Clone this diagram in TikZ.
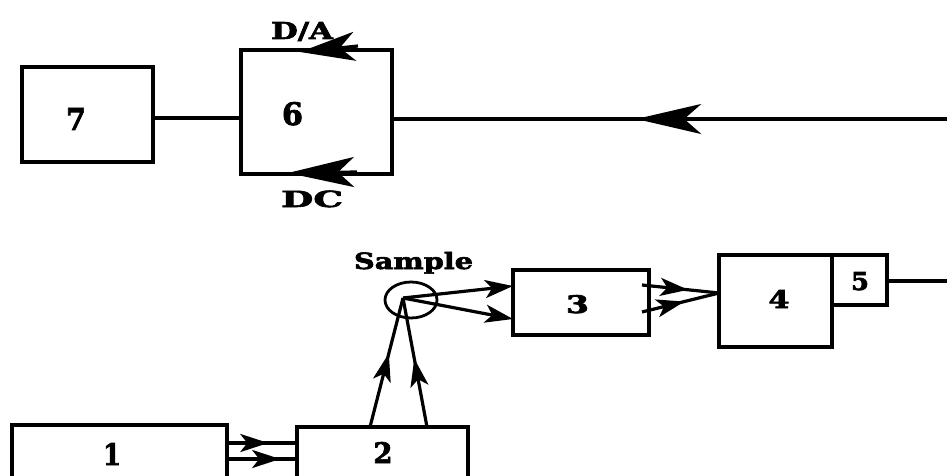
\documentclass[tikz,border=0pt]{standalone}
\usepackage{fontspec}
\setmainfont{DejaVu Serif}[BoldFeatures={FakeBold=2.5}]
\usetikzlibrary{arrows.meta,decorations.markings,shapes.geometric}
\begin{document}
\begin{tikzpicture}[x=1pt,y=-1pt,
  >={Stealth[length=28pt,width=18pt,inset=7pt]},
  box/.style={draw, line width=3.4pt, rectangle, inner sep=0pt, outer sep=0pt},
  conn/.style={line width=3.2pt},
  lab/.style={anchor=base, inner sep=0pt, font=\bfseries\fontsize{24}{24}\selectfont},
  midarr/.style={postaction={decorate}, decoration={markings, mark=at position #1 with {\arrow{>}}}},
  bigmid/.style={postaction={decorate}, decoration={markings, mark=at position #1 with {\arrow{Stealth[length=65pt,width=30pt,inset=17pt]}}}},
  headDA/.style={conn, -{Stealth[length=55pt,width=29pt,inset=15pt]}},
  headDC/.style={conn, -{Stealth[length=66pt,width=30pt,inset=16pt]}}
]
\clip (0,0) rectangle (947,476);
\useasboundingbox (0,0) rectangle (947,476);

% boxes
\node[box, minimum width=131pt, minimum height=95pt] (n7) at (87.5,114.5) {};
\node[box, minimum width=151pt, minimum height=124pt] (n6) at (316.5,112) {};
\node[box, minimum width=215pt, minimum height=85pt] (n1) at (119.5,467.5) {};
\node[box, minimum width=171pt, minimum height=83pt] (n2) at (382.5,468.5) {};
\node[box, minimum width=136pt, minimum height=65pt] (n3) at (581,302.5) {};
\node[box, minimum width=113pt, minimum height=92pt] (n4) at (775.5,301) {};
\node[box, minimum width=55pt, minimum height=50pt] (n5) at (859.5,280) {};
\node[draw, ellipse, line width=2.8pt, inner sep=0pt, minimum width=52pt, minimum height=36pt] (smp) at (411,300) {};

% labels
\node[lab] (l7) at (76,130) {\resizebox{20pt}{22pt}{7}};
\node[lab] (l6) at (292.5,125) {\resizebox{21pt}{23pt}{6}};
\node[lab] (l1) at (112,465) {\resizebox{18pt}{22pt}{1}};
\node[lab] (l2) at (383,463) {\resizebox{19pt}{21pt}{2}};
\node[lab] (l3) at (577.5,313) {\resizebox{23pt}{18pt}{3}};
\node[lab] (l4) at (779,308) {\resizebox{21pt}{18pt}{4}};
\node[lab] (l5) at (860,290) {\resizebox{18pt}{18pt}{5}};
\node[lab] (lsmp) at (413.5,269) {\resizebox{119pt}{17pt}{Sample}};
\node[lab] (lda) at (302,39) {\resizebox{62pt}{17pt}{D/A}};
\node[lab] (ldc) at (312,207) {\resizebox{62pt}{16.5pt}{DC}};

% coordinates
\coordinate (inR) at (947,119);
\coordinate (outR) at (947,281);
\coordinate (foc) at (403,298);
\coordinate (c4) at (n4.west |- 0,293);

% connectors
\draw[conn] (n7.east |- 0,118) -- (n6.west |- 0,118);
\draw[conn, bigmid=0.56] (inR) -- (inR -| n6.east);
\draw[conn] (n5.east |- outR) -- (outR);

\draw[conn, midarr=0.59] (n1.east |- 0,443) -- (n2.west |- 0,443);
\draw[conn, midarr=0.76] (n1.east |- 0,459) -- (n2.west |- 0,459);

\draw[conn, midarr=0.57] (n2.north -| 370,0) -- (foc);
\draw[conn, midarr=0.53] (n2.north -| 427,0) -- (foc);

\draw[conn, ->] (foc) -- (n3.west |- 0,286);
\draw[conn, ->] (foc) -- (n3.west |- 0,319);

\draw[conn, midarr=0.6] (642,285) -- (c4);
\draw[conn, midarr=0.55] (642,312) -- (c4);

% arrowheads on box 6
\draw[headDA] (358,46) -- (300,52);
\draw[headDC] (357,172) -- (288,173);
\end{tikzpicture}
\end{document}
